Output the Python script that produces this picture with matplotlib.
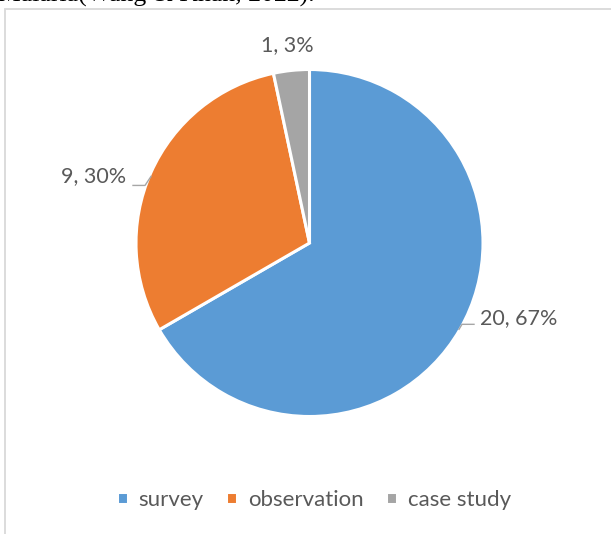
import numpy as np
import matplotlib.pyplot as plt
from matplotlib.patches import Rectangle
from matplotlib.lines import Line2D

# Study designs used in the reviewed papers
categories = ['survey', 'observation', 'case study']
counts = [20, 9, 1]
colors = ['#5B9BD5', '#ED7D31', '#A5A5A5']

W, H = 611, 534
plt.rcParams['font.family'] = ['Lato', 'DejaVu Sans']

fig = plt.figure(figsize=(W / 100, H / 100), dpi=100)
ax = fig.add_axes([0, 0, 1, 1])

# pixel-like coordinates, y pointing up
cx, cy, r = 309.5, H - 243, 173.5
wedges, _ = ax.pie(counts, colors=colors, startangle=90, counterclock=False,
                   center=(cx, cy), radius=r,
                   wedgeprops=dict(edgecolor='white', linewidth=2.2))
ax.set_xlim(0, W)
ax.set_ylim(0, H)
ax.set_aspect('equal')
ax.axis('off')

total = sum(counts)
txt_color = '#595959'
line_color = '#A6A6A6'

# label placement
label_pos = [(519, H - 318), (94, H - 176), (287, H - 45)]
for w, n, pos in zip(wedges, counts, label_pos):
    pct = round(100 * n / total)
    ax.text(pos[0], pos[1], f'{n}, {pct}%', ha='center', va='center',
            fontsize=15.5, color=txt_color)

# leader lines for the two side labels
ang = np.deg2rad((wedges[0].theta1 + wedges[0].theta2) / 2)
ex, ey = cx + r * np.cos(ang) * 0.995, cy + r * np.sin(ang) * 0.995
ax.add_line(Line2D([ex, ex + 3, ex + 15], [ey, ey + 5, ey + 5],
                   color=line_color, lw=1))
ang = np.deg2rad((wedges[1].theta1 + wedges[1].theta2) / 2)
ex, ey = cx + r * np.cos(ang), cy + r * np.sin(ang) - 4
ax.add_line(Line2D([ex, ex - 6, ex - 18], [ey, ey - 9, ey - 9],
                   color=line_color, lw=1))

# legend along the bottom
leg = fig.legend(wedges, categories, loc='center', bbox_to_anchor=(0.514, 1 - 500 / H),
                 ncol=3, frameon=False, handlelength=0.5, handleheight=0.5,
                 handletextpad=0.5, columnspacing=1.0, fontsize=16)
for t in leg.get_texts():
    t.set_color(txt_color)

# chart frame (top and left edges visible)
fig.add_artist(Rectangle((4.5 / W, -0.1), 1.2, 1.1 - 9 / H, transform=fig.transFigure,
                         fill=False, edgecolor='#D9D9D9', lw=1.3, clip_on=False))

# tail of the paragraph above the chart
fig.text(-2 / W, 1 - 2 / H, 'Malaria(Wang & Khan, 2022).', family='Liberation Serif',
         fontsize=18.5, va='baseline', ha='left', color='black')

fig.savefig('out.png', dpi=100)
